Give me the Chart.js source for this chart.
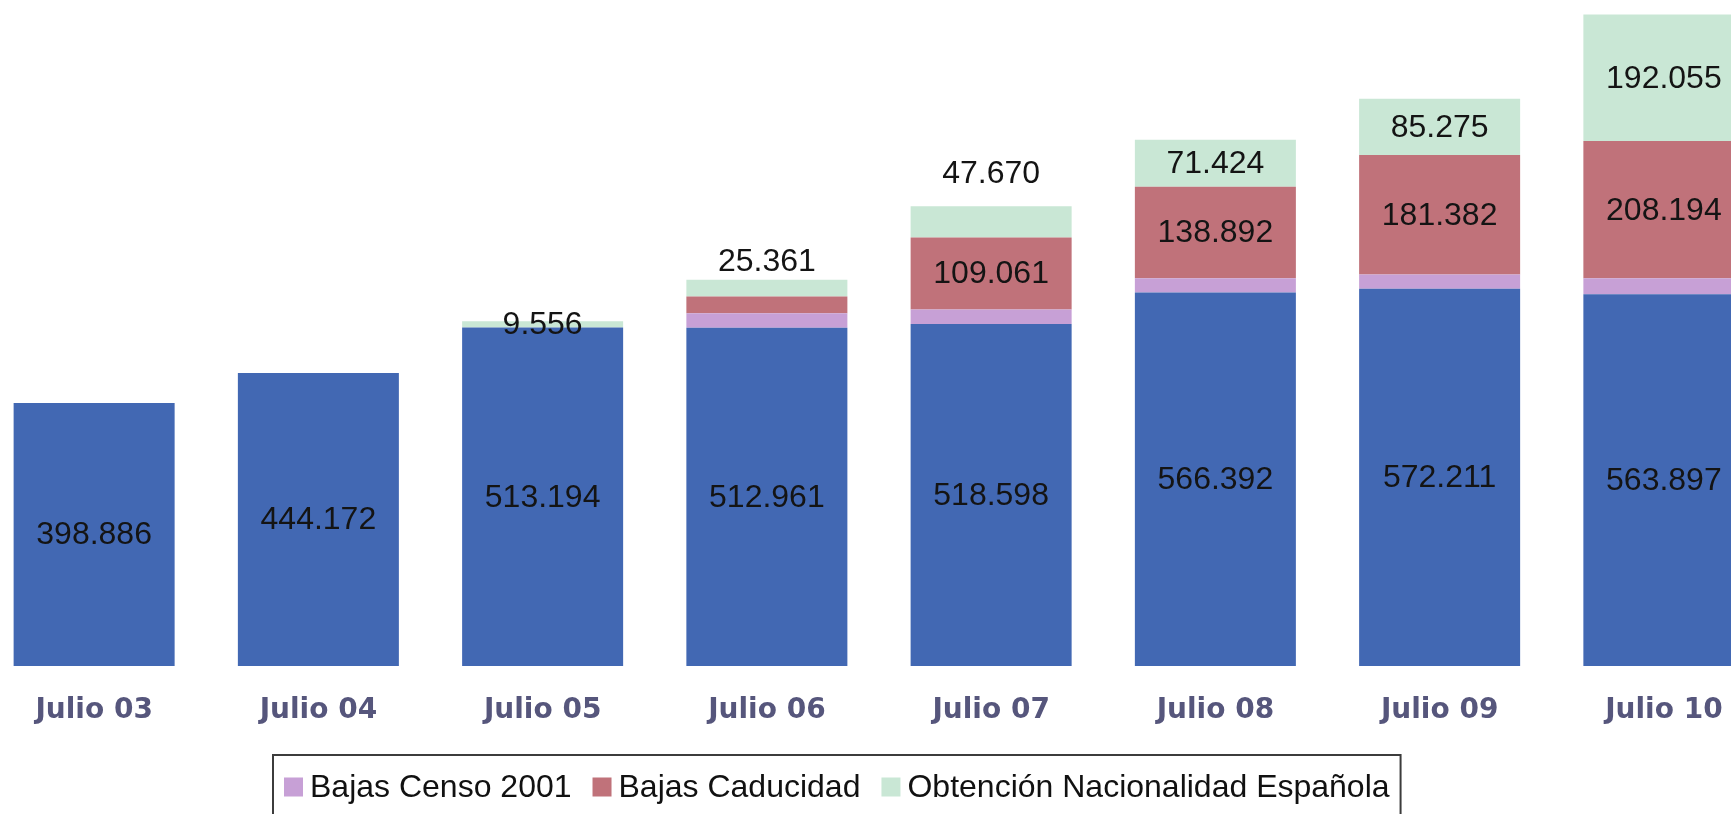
<!DOCTYPE html>
<html>
<head>
<meta charset="utf-8">
<script src="https://cdn.jsdelivr.net/npm/chart.js@4/dist/chart.umd.min.js"></script>
<style>
  html, body { margin: 0; padding: 0; background: #ffffff; overflow: hidden; width: 1731px; height: 814px; }
  #wrap { position: absolute; left: -18px; top: 0; width: 1794px; height: 814px; }
</style>
</head>
<body>
<div id="wrap"><canvas id="chart" width="1794" height="814"></canvas></div>
<script>
// Categories (July of each year)
const categories = ['Julio 03', 'Julio 04', 'Julio 05', 'Julio 06', 'Julio 07', 'Julio 08', 'Julio 09', 'Julio 10'];

// Series values
const residentes      = [398886, 444172, 513194, 512961, 518598, 566392, 572211, 563897];
const bajasCenso2001  = [null, null, null, 22000, 22000, 21500, 21500, 24000];
const bajasCaducidad  = [null, null, null, 25500, 109061, 138892, 181382, 208194];
const nacionalidad    = [null, null, 9556, 25361, 47670, 71424, 85275, 192055];

// Series names
const seriesNames = ['Residentes', 'Bajas Censo 2001', 'Bajas Caducidad', 'Obtención Nacionalidad Española'];

const colors = ['#4268b3', '#c7a0d6', '#c0727a', '#c9e7d5'];

const formatNumber = v => String(v).replace(/\B(?=(\d{3})+(?!\d))/g, '.');

// Values written on the bar segments
const segmentLabels = {
  id: 'segmentLabels',
  afterDatasetsDraw(chart, args, opts) {
    const ctx = chart.ctx;
    ctx.save();
    ctx.font = opts.font;
    ctx.fillStyle = opts.color;
    ctx.textAlign = 'center';
    ctx.textBaseline = 'middle';
    chart.data.datasets.forEach((ds, di) => {
      if (ds.valueLabels === 'none') return;
      const meta = chart.getDatasetMeta(di);
      meta.data.forEach((bar, i) => {
        const v = ds.data[i];
        if (v == null || v === 0) return;
        const { x, y, base } = bar.getProps(['x', 'y', 'base'], true);
        const h = Math.abs(base - y);
        if (ds.valueLabels === 'fit' && h < opts.minHeight) return;
        let ty = (y + base) / 2;
        const above = (ds.labelAbove || {})[i];
        if (above != null) ty = y - above;
        ctx.fillText(formatNumber(v), x, ty + 1);
      });
    });
    ctx.restore();
  }
};

// Boxed legend below the axis labels
const boxedLegend = {
  id: 'boxedLegend',
  afterDraw(chart, args, opts) {
    const ctx = chart.ctx;
    ctx.save();
    ctx.font = opts.font;
    const items = chart.data.datasets.filter(ds => !ds.hideInLegend);
    let width = opts.padX;
    const widths = items.map(ds => ctx.measureText(ds.label).width);
    widths.forEach((w, k) => {
      width += opts.swatch + opts.gapText + w + (k < widths.length - 1 ? opts.gapItem : 0);
    });
    width += opts.padX;
    ctx.fillStyle = '#ffffff';
    ctx.fillRect(opts.left, opts.top, width, 200);
    ctx.lineWidth = 2;
    ctx.strokeStyle = '#3c3c3c';
    ctx.strokeRect(opts.left, opts.top, width, 200);
    let x = opts.left + opts.padX;
    ctx.textBaseline = 'middle';
    ctx.textAlign = 'left';
    items.forEach((ds, k) => {
      ctx.fillStyle = ds.backgroundColor;
      ctx.fillRect(x, opts.textY - opts.swatch / 2, opts.swatch, opts.swatch);
      x += opts.swatch + opts.gapText;
      ctx.fillStyle = '#111111';
      ctx.fillText(ds.label, x, opts.textY + 1);
      x += widths[k] + opts.gapItem;
    });
    ctx.restore();
  }
};

const chart = new Chart(document.getElementById('chart'), {
  type: 'bar',
  data: {
    labels: categories,
    datasets: [
      { label: seriesNames[0], data: residentes, backgroundColor: colors[0], hideInLegend: true, valueLabels: 'all' },
      { label: seriesNames[1], data: bajasCenso2001, backgroundColor: colors[1], valueLabels: 'none' },
      { label: seriesNames[2], data: bajasCaducidad, backgroundColor: colors[2], valueLabels: 'fit' },
      { label: seriesNames[3], data: nacionalidad, backgroundColor: colors[3], valueLabels: 'all', labelAbove: { 3: 19, 4: 33 } }
    ]
  },
  options: {
    responsive: false,
    animation: false,
    devicePixelRatio: 1,
    layout: { padding: 0 },
    datasets: {
      bar: { categoryPercentage: 1, barPercentage: 0.718, borderWidth: 0 }
    },
    scales: {
      x: {
        stacked: true,
        grid: { display: false, drawTicks: false },
        border: { display: false },
        ticks: {
          color: '#56567c',
          font: { family: '"DejaVu Sans", Verdana, sans-serif', weight: 'bold', size: 28 },
          padding: 28,
          maxRotation: 0,
          autoSkip: false
        },
        afterFit(scale) { scale.height = 148; }
      },
      y: {
        stacked: true,
        display: false,
        min: 0,
        max: 1010000
      }
    },
    plugins: {
      legend: { display: false },
      tooltip: { enabled: false },
      segmentLabels: { font: '32px "Liberation Sans", Arial, sans-serif', color: '#141414', minHeight: 30 },
      boxedLegend: {
        font: '32px "Liberation Sans", Arial, sans-serif',
        left: 291, top: 755, textY: 787,
        swatch: 19, gapText: 7, gapItem: 21, padX: 11
      }
    }
  },
  plugins: [segmentLabels, boxedLegend]
});
</script>
</body>
</html>
